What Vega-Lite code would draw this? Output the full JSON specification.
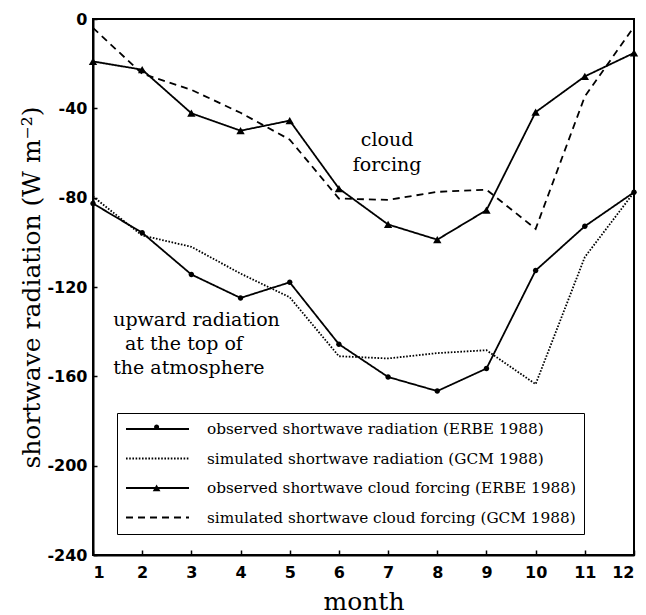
{
  "$schema": "https://vega.github.io/schema/vega-lite/v6.json",
  "width": 541,
  "height": 536,
  "autosize": {"type": "none"},
  "padding": {"left": 93, "top": 19, "right": 12, "bottom": 60},
  "background": "white",
  "config": {
    "view": {"stroke": "black", "strokeWidth": 2},
    "axis": {
      "domainColor": "black",
      "domainWidth": 2,
      "tickColor": "black",
      "tickWidth": 1.5,
      "grid": false,
      "labelFont": "DejaVu Sans",
      "labelFontWeight": "bold",
      "labelFontSize": 16,
      "labelColor": "black",
      "titleFont": "DejaVu Serif",
      "titleFontWeight": "normal",
      "titleFontSize": 25,
      "titleColor": "black"
    }
  },
  "data": {
    "values": [
      {"month": 1, "series": "observed shortwave radiation (ERBE 1988)", "value": -82.6},
      {"month": 2, "series": "observed shortwave radiation (ERBE 1988)", "value": -95.7},
      {"month": 3, "series": "observed shortwave radiation (ERBE 1988)", "value": -114.4},
      {"month": 4, "series": "observed shortwave radiation (ERBE 1988)", "value": -124.9},
      {"month": 5, "series": "observed shortwave radiation (ERBE 1988)", "value": -117.9},
      {"month": 6, "series": "observed shortwave radiation (ERBE 1988)", "value": -145.6},
      {"month": 7, "series": "observed shortwave radiation (ERBE 1988)", "value": -160.3},
      {"month": 8, "series": "observed shortwave radiation (ERBE 1988)", "value": -166.6},
      {"month": 9, "series": "observed shortwave radiation (ERBE 1988)", "value": -156.5},
      {"month": 10, "series": "observed shortwave radiation (ERBE 1988)", "value": -112.6},
      {"month": 11, "series": "observed shortwave radiation (ERBE 1988)", "value": -92.8},
      {"month": 12, "series": "observed shortwave radiation (ERBE 1988)", "value": -77.6},
      {"month": 1, "series": "simulated shortwave radiation (GCM 1988)", "value": -79.5},
      {"month": 2, "series": "simulated shortwave radiation (GCM 1988)", "value": -96.9},
      {"month": 3, "series": "simulated shortwave radiation (GCM 1988)", "value": -102},
      {"month": 4, "series": "simulated shortwave radiation (GCM 1988)", "value": -114},
      {"month": 5, "series": "simulated shortwave radiation (GCM 1988)", "value": -124.6},
      {"month": 6, "series": "simulated shortwave radiation (GCM 1988)", "value": -151},
      {"month": 7, "series": "simulated shortwave radiation (GCM 1988)", "value": -152},
      {"month": 8, "series": "simulated shortwave radiation (GCM 1988)", "value": -149.6},
      {"month": 9, "series": "simulated shortwave radiation (GCM 1988)", "value": -148.3},
      {"month": 10, "series": "simulated shortwave radiation (GCM 1988)", "value": -163.5},
      {"month": 11, "series": "simulated shortwave radiation (GCM 1988)", "value": -106.6},
      {"month": 12, "series": "simulated shortwave radiation (GCM 1988)", "value": -77.6},
      {"month": 1, "series": "observed shortwave cloud forcing (ERBE 1988)", "value": -19},
      {"month": 2, "series": "observed shortwave cloud forcing (ERBE 1988)", "value": -22.7},
      {"month": 3, "series": "observed shortwave cloud forcing (ERBE 1988)", "value": -42.2},
      {"month": 4, "series": "observed shortwave cloud forcing (ERBE 1988)", "value": -50},
      {"month": 5, "series": "observed shortwave cloud forcing (ERBE 1988)", "value": -45.5},
      {"month": 6, "series": "observed shortwave cloud forcing (ERBE 1988)", "value": -75.9},
      {"month": 7, "series": "observed shortwave cloud forcing (ERBE 1988)", "value": -92},
      {"month": 8, "series": "observed shortwave cloud forcing (ERBE 1988)", "value": -98.8},
      {"month": 9, "series": "observed shortwave cloud forcing (ERBE 1988)", "value": -85.6},
      {"month": 10, "series": "observed shortwave cloud forcing (ERBE 1988)", "value": -41.7},
      {"month": 11, "series": "observed shortwave cloud forcing (ERBE 1988)", "value": -25.7},
      {"month": 12, "series": "observed shortwave cloud forcing (ERBE 1988)", "value": -15.2},
      {"month": 1, "series": "simulated shortwave cloud forcing (GCM 1988)", "value": -4},
      {"month": 2, "series": "simulated shortwave cloud forcing (GCM 1988)", "value": -24.5},
      {"month": 3, "series": "simulated shortwave cloud forcing (GCM 1988)", "value": -31.7},
      {"month": 4, "series": "simulated shortwave cloud forcing (GCM 1988)", "value": -42},
      {"month": 5, "series": "simulated shortwave cloud forcing (GCM 1988)", "value": -54},
      {"month": 6, "series": "simulated shortwave cloud forcing (GCM 1988)", "value": -80.4},
      {"month": 7, "series": "simulated shortwave cloud forcing (GCM 1988)", "value": -81},
      {"month": 8, "series": "simulated shortwave cloud forcing (GCM 1988)", "value": -77.4},
      {"month": 9, "series": "simulated shortwave cloud forcing (GCM 1988)", "value": -76.4},
      {"month": 10, "series": "simulated shortwave cloud forcing (GCM 1988)", "value": -94},
      {"month": 11, "series": "simulated shortwave cloud forcing (GCM 1988)", "value": -34.7},
      {"month": 12, "series": "simulated shortwave cloud forcing (GCM 1988)", "value": -3.5}
    ]
  },
  "encoding": {
    "x": {
      "field": "month",
      "type": "quantitative",
      "scale": {"domain": [1, 12], "nice": false, "zero": false},
      "axis": {
        "values": [1, 2, 3, 4, 5, 6, 7, 8, 9, 10, 11, 12],
        "format": "d",
        "tickSize": -5,
        "labelPadding": 14,
        "title": "month",
        "titleY": 54,
        "titleBaseline": "alphabetic"
      }
    },
    "y": {
      "field": "value",
      "type": "quantitative",
      "scale": {"domain": [-240, 0], "nice": false, "zero": false},
      "axis": {
        "values": [0, -40, -80, -120, -160, -200, -240],
        "labelExpr": "datum.value + ''",
        "tickSize": -4,
        "labelPadding": 10,
        "title": "shortwave radiation  (W m⁻²)",
        "titleAngle": -90,
        "titleAlign": "center",
        "titleBaseline": "middle",
        "titleX": -62,
        "titleY": 268
      }
    }
  },
  "layer": [
    {
      "mark": {"type": "line", "color": "black", "strokeWidth": 1.8},
      "encoding": {
        "strokeDash": {
          "field": "series",
          "type": "nominal",
          "scale": {
            "domain": [
              "observed shortwave radiation (ERBE 1988)",
              "simulated shortwave radiation (GCM 1988)",
              "observed shortwave cloud forcing (ERBE 1988)",
              "simulated shortwave cloud forcing (GCM 1988)"
            ],
            "range": [[1, 0], [1.6, 1.6], [1, 0], [7, 5]]
          },
          "legend": {
            "title": null,
            "orient": "none",
            "legendX": 24,
            "legendY": 394,
            "direction": "vertical",
            "strokeColor": "black",
            "padding": 8,
            "symbolSize": 3969,
            "symbolStrokeWidth": 1.8,
            "symbolStrokeColor": "black",
            "clipHeight": 16,
            "rowPadding": 12.5,
            "labelOffset": 17,
            "labelFont": "DejaVu Serif",
            "labelFontSize": 15.3,
            "labelColor": "black",
            "labelLimit": 600,
            "encode": {"legend": {"strokeWidth": {"value": 2}}}
          }
        }
      }
    },
    {
      "transform": [{"filter": "indexof(datum.series, 'observed') == 0"}],
      "mark": {"type": "point", "filled": true, "color": "black", "opacity": 1, "size": 70},
      "encoding": {
        "shape": {
          "field": "series",
          "type": "nominal",
          "scale": {
            "domain": ["observed shortwave radiation (ERBE 1988)", "observed shortwave cloud forcing (ERBE 1988)"],
            "range": ["M-0.65,0A0.65,0.65 0 1,1 0.65,0A0.65,0.65 0 1,1 -0.65,0Z", "triangle-up"]
          },
          "legend": {
            "title": null,
            "orient": "none",
            "legendX": 59.6,
            "legendY": 404.1,
            "direction": "vertical",
            "padding": 0,
            "symbolSize": 60,
            "symbolFillColor": "black",
            "symbolStrokeColor": "black",
            "symbolStrokeWidth": 0,
            "symbolOpacity": 1,
            "rowPadding": 53.7,
            "labelExpr": "''",
            "labelFontSize": 4,
            "labelOffset": 0
          }
        }
      }
    },
    {
      "transform": [{"filter": "datum.month == 1 && datum.series == 'observed shortwave radiation (ERBE 1988)'"}],
      "mark": {"type": "text", "text": ["cloud", "forcing"], "font": "DejaVu Serif", "fontSize": 19, "align": "center", "baseline": "alphabetic", "lineHeight": 25, "color": "black"},
      "encoding": {"x": {"datum": 6.98}, "y": {"datum": -57}}
    },
    {
      "transform": [{"filter": "datum.month == 1 && datum.series == 'observed shortwave radiation (ERBE 1988)'"}],
      "mark": {"type": "text", "text": "upward radiation", "font": "DejaVu Serif", "fontSize": 19, "align": "left", "baseline": "alphabetic", "color": "black"},
      "encoding": {"x": {"datum": 1.41}, "y": {"datum": -137.5}}
    },
    {
      "transform": [{"filter": "datum.month == 1 && datum.series == 'observed shortwave radiation (ERBE 1988)'"}],
      "mark": {"type": "text", "text": "at the top of", "font": "DejaVu Serif", "fontSize": 19, "align": "left", "baseline": "alphabetic", "color": "black"},
      "encoding": {"x": {"datum": 1.65}, "y": {"datum": -148.2}}
    },
    {
      "transform": [{"filter": "datum.month == 1 && datum.series == 'observed shortwave radiation (ERBE 1988)'"}],
      "mark": {"type": "text", "text": "the atmosphere", "font": "DejaVu Serif", "fontSize": 19, "align": "left", "baseline": "alphabetic", "color": "black"},
      "encoding": {"x": {"datum": 1.41}, "y": {"datum": -159}}
    }
  ]
}
